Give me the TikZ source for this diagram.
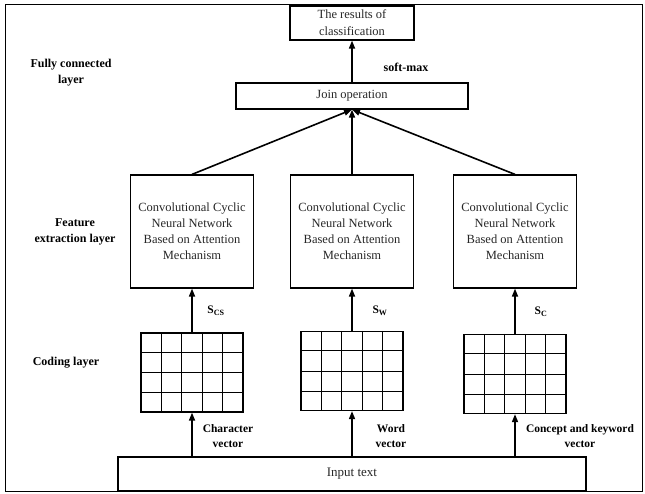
\documentclass[tikz,border=0pt]{standalone}
\usepackage{fontspec}
\setmainfont{Liberation Serif}
\usetikzlibrary{arrows.meta,calc}
\begin{document}
\begin{tikzpicture}[x=1pt,y=-1pt,
  box/.style={draw, line width=1.2pt, align=center, inner sep=0pt, font=\fontsize{12.5}{16}\selectfont, text=black!85},
  cnnbox/.style={box, minimum width=123pt, minimum height=113pt},
  gridbox/.style={draw, line width=1.3pt, minimum width=102pt, minimum height=79pt, inner sep=0pt},
  gline/.style={line width=1pt},
  arr/.style={line width=1.6pt, -{Triangle[length=8pt,width=6pt]}},
  lbl/.style={font=\bfseries\fontsize{11.5}{15}\selectfont, align=center, inner sep=0pt},
  biglbl/.style={lbl, font=\bfseries\fontsize{12}{16}\selectfont},
]
\useasboundingbox (0,0) rectangle (645,494);
\draw[line width=1pt] (5,5) rectangle (642,491);

% boxes
\node[box, minimum width=124pt, minimum height=34pt, font=\fontsize{12.5}{17}\selectfont] (res) at (352,23) {The results of\\classification};
\node[box, minimum width=232pt, minimum height=26pt] (join) at (352,96) {Join operation};
\node[cnnbox] (c1) at (192,231.5) {Convolutional Cyclic\\Neural Network\\Based on Attention\\Mechanism};
\node[cnnbox] (c2) at (352,231.5) {Convolutional Cyclic\\Neural Network\\Based on Attention\\Mechanism};
\node[cnnbox] (c3) at (515,231.5) {Convolutional Cyclic\\Neural Network\\Based on Attention\\Mechanism};
\node[gridbox] (g1) at (192,372.5) {};
\node[gridbox] (g2) at (352,371) {};
\node[gridbox] (g3) at (515,374) {};
\node[box, minimum width=468pt, minimum height=34pt, font=\fontsize{13}{16}\selectfont] (input) at (352,474) {Input text};

% grid lines
\foreach \g in {g1,g2,g3}{
  \foreach \i in {1,2,3,4}
    \draw[gline] ($(\g.north west)!\i/5!(\g.north east)$) -- ($(\g.south west)!\i/5!(\g.south east)$);
  \foreach \j in {1,2,3}
    \draw[gline] ($(\g.north west)!\j/4!(\g.south west)$) -- ($(\g.north east)!\j/4!(\g.south east)$);
}

% connectors
\foreach \g/\c in {g1/c1,g2/c2,g3/c3}{
  \draw[arr] (input.north -| \g.south) -- (\g.south);
  \draw[arr] (\g.north) -- (\c.south);
  \draw[arr] (\c.north) -- (join.south);
}
\draw[arr] (join.north) -- (res.south);

% labels
\node[biglbl] (lfc) at (71,73) {Fully connected\\layer};
\node[biglbl] (lfe) at (75,232) {Feature\\extraction layer};
\node[biglbl] (lcl) at (66,363) {Coding layer};
\node[biglbl] (lsm) at (406,67) {soft-max};
\node[lbl] (s1) at (216,311) {S\textsubscript{CS}};
\node[lbl] (s2) at (380,311) {S\textsubscript{W}};
\node[lbl] (s3) at (541,312) {S\textsubscript{C}};
\node[lbl] (v1) at (228,436) {Character\\vector};
\node[lbl] (v2) at (391,436) {Word\\vector};
\node[lbl] (v3) at (580,436) {Concept and keyword\\vector};
\end{tikzpicture}
\end{document}
